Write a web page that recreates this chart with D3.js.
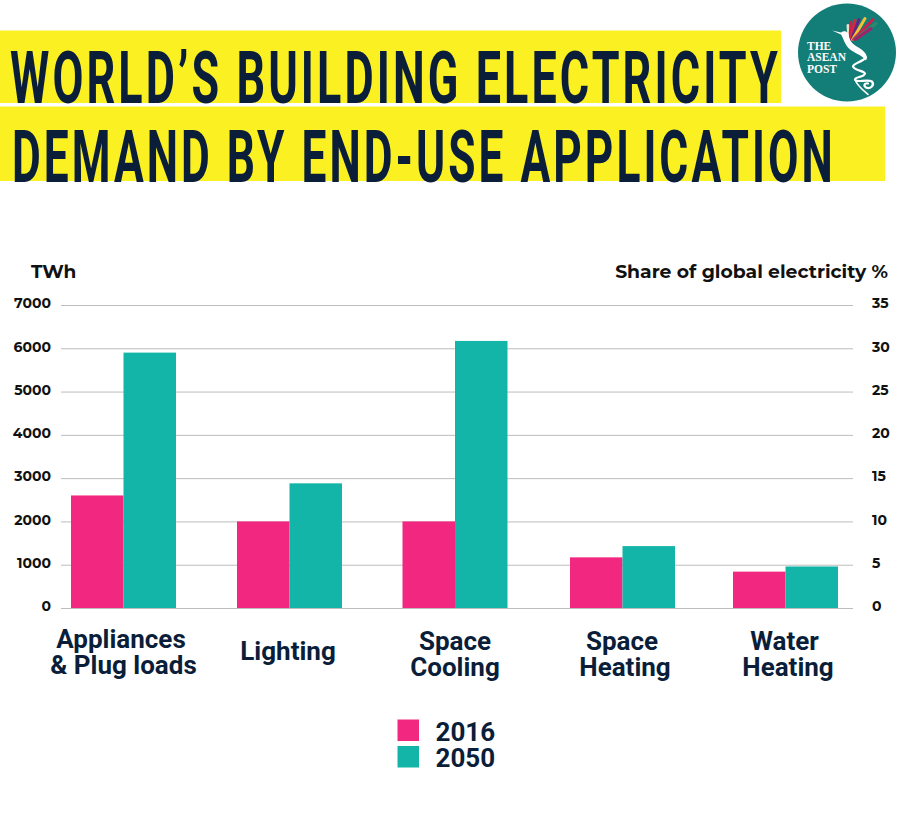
<!DOCTYPE html>
<html><head><meta charset="utf-8">
<script src="https://cdn.jsdelivr.net/npm/d3@7/dist/d3.min.js"></script>
<style>html,body{margin:0;padding:0;background:#fff}svg{display:block}</style></head>
<body><svg id="c" width="900" height="825"></svg>
<script>
const categories=[["Appliances","& Plug loads"],["Lighting"],["Space","Cooling"],["Space","Heating"],["Water","Heating"]];
const keys=categories.map(d=>d.join(" "));
const years=["2016","2050"];
const values2016=[2600,2000,2000,1170,840];
const values2050=[5900,2880,6170,1430,960];
const leftTicks=[0,1000,2000,3000,4000,5000,6000,7000];
const rightTicks=[0,5,10,15,20,25,30,35];
const titleLines=["WORLD’S BUILDING ELECTRICITY","DEMAND BY END-USE APPLICATION"];
const logoWords=["THE","ASEAN","POST"];
const featherColors=["#e9e2c8","#c8224e","#d8263f","#5b2a86","#f2c230","#c8224e","#2a8a6b","#a3206a"];

const navy="#0a1e3a",pink="#f2277f",teal="#12b5a8",yellow="#fbf022";
const sans="Montserrat, 'Open Sans', sans-serif";
const svg=d3.select("#c");
const y=d3.scaleLinear().domain([0,7000]).range([608,305]);
const yR=d3.scaleLinear().domain([0,35]).range([608,305]);
const x=d3.scaleOrdinal(keys,[123.5,289.5,455,622.5,785.5]);
const xLabel=d3.scaleOrdinal(keys,[123.5,288,455,625,788]);
const firstLineShift=d3.scaleOrdinal(keys,[-2.5,0,0,-3,-3.5]);
const xYear=d3.scaleBand().domain(years).range([-52.5,52.5]);
const color=d3.scaleOrdinal(years,[pink,teal]);

// title
[[0,30.5,781,72.5,10,103,768],[0,106.5,885,74.5,12,182,821]].forEach((r,i)=>{
  svg.append("rect").attr("x",r[0]).attr("y",r[1]).attr("width",r[2]).attr("height",r[3]).attr("fill",yellow);
  const t=svg.append("text").text(titleLines[i])
    .attr("font-family","Roboto").attr("font-weight",700).attr("font-size",73)
    .style("letter-spacing","5px").attr("fill",navy);
  const sx=r[6]/(t.node().getComputedTextLength()-5);
  t.attr("transform",`translate(${r[4]},${r[5]}) scale(${sx},1)`);
});

// logo
const logo=svg.append("g").attr("transform","translate(847,52.5)");
logo.append("circle").attr("r",49).attr("fill","#137d78");
featherColors.forEach((c,i)=>{
  const tips=[[1,-27],[4,-30],[8,-32],[12,-33],[18,-34],[26,-33],[29,-29],[24,-24]][i];
  logo.append("line").attr("x1",2+i*.9).attr("y1",-13).attr("x2",tips[0]).attr("y2",tips[1])
    .attr("stroke",c).attr("stroke-width",3).attr("stroke-linecap","round");
});
logo.append("path").attr("fill","#fff")
  .attr("d","M-15,-22 L-6,-20 C-2,-23 2,-20 2,-16 C3,-10 8,-7 13,-4 C19,0 21,4 19,8 C15,2 5,0 1,-5 C-3,-10 -4,-15 -6,-18Z");
logo.append("path").attr("fill","none").attr("stroke","#fff").attr("stroke-width",2.2).attr("stroke-linecap","round")
  .attr("d","M19,5 C16,9 6,11 6,14 C7,18 17,18 18,21 C17,25 8,24 8,27 C9,31 20,26 25,29 C28,33 23,37 19,35 C16,33 18,30 21,31");
logo.append("path").attr("fill","none").attr("stroke","#fff").attr("stroke-width",1.6).attr("stroke-linecap","round")
  .attr("d","M8,27 C10,33 15,37 21,42");
logo.selectAll("text.w").data(logoWords).join("text").attr("class","w")
  .attr("x",-40).attr("y",(d,i)=>-3+i*11.5).text(d=>d)
  .attr("font-family","Liberation Serif").attr("font-weight",700).attr("font-size",11.5).attr("fill","#fff");

// grid
svg.append("g").selectAll("line").data(leftTicks).join("line")
  .attr("x1",61).attr("x2",853).attr("y1",d=>y(d)+.5).attr("y2",d=>y(d)+.5)
  .attr("stroke","#bdbdbd").attr("stroke-width",1);

// axes
const axisL=svg.append("g").attr("transform","translate(51,0)")
  .call(d3.axisLeft(y).tickValues(leftTicks).tickSize(0).tickPadding(0).tickFormat(d3.format("d")));
const axisR=svg.append("g").attr("transform","translate(872,0)")
  .call(d3.axisRight(yR).tickValues(rightTicks).tickSize(0).tickPadding(0));
[axisL,axisR].forEach(a=>{a.select(".domain").remove();
  a.selectAll("text").attr("font-family",sans).attr("font-weight",700).attr("font-size",14).attr("fill","#111").attr("dy","0.2em");});
axisR.selectAll("text").attr("text-anchor","start");

// bars
const rows=keys.map((k,i)=>[{k,yr:"2016",v:values2016[i]},{k,yr:"2050",v:values2050[i]}]).flat();
svg.append("g").selectAll("rect").data(rows).join("rect")
  .attr("x",d=>x(d.k)+xYear(d.yr))
  .attr("width",xYear.bandwidth())
  .attr("y",d=>y(d.v)).attr("height",d=>y(0)-y(d.v)).attr("fill",d=>color(d.yr));

// category labels
const cat=svg.append("g").selectAll("text").data(categories).join("text")
  .attr("text-anchor","middle").attr("font-family","Roboto").attr("font-weight",700).attr("font-size",26).attr("fill",navy);
cat.each(function(d,i){
  const t=d3.select(this), cx=xLabel(keys[i]);
  d.forEach((s,j)=>t.append("tspan").attr("x",cx+(j===0?firstLineShift(keys[i]):0)).attr("y",(d.length===1?660:(i===0?648:650))+j*25.5).text(s));
});

// axis titles
svg.append("text").attr("x",31).attr("y",278).text("TWh")
  .attr("font-family",sans).attr("font-weight",700).attr("font-size",18.5).attr("fill","#111");
svg.append("text").attr("x",888).attr("y",278).attr("text-anchor","end").text("Share of global electricity %")
  .attr("font-family",sans).attr("font-weight",700).attr("font-size",18.8).attr("fill","#111");

// legend
const lg=svg.append("g").selectAll("g").data(years).join("g")
  .attr("transform",(d,i)=>`translate(397.5,${719.5+i*26.5})`);
lg.append("rect").attr("width",21.5).attr("height",21.5).attr("fill",d=>color(d));
lg.append("text").attr("x",38).attr("y",21).text(d=>d)
  .attr("font-family","Roboto").attr("font-weight",700).attr("font-size",26).attr("fill",navy);
</script></body></html>
